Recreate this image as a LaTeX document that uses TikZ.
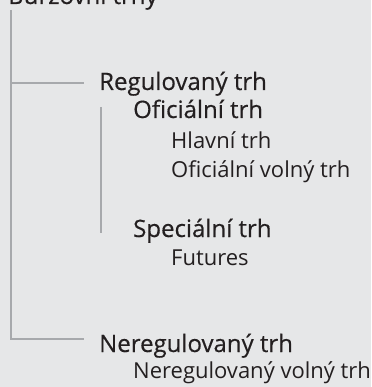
\documentclass[tikz,border=0pt]{standalone}
\usepackage{xcolor}
\usepackage{fontspec}
\setmainfont{Open Sans}
\newfontfamily\headfont[FakeBold=0.4]{Open Sans}

\definecolor{bgGray}{HTML}{E6E7E8}
\definecolor{lineGray}{HTML}{A7A9AC}
\definecolor{textDark}{HTML}{231F20}

\begin{document}
\begin{tikzpicture}[
        x=1pt, y=-1pt,
        every node/.style={inner sep=0pt, anchor=base west, text=textDark},
        head/.style={font=\fontsize{24}{28}\selectfont\headfont},
        item/.style={font=\fontsize{22}{26}\selectfont},
        treeline/.style={lineGray, line width=1.8pt},
    ]
    % Background
    \fill[bgGray] (0,0) rectangle (371,387);
    \useasboundingbox (0,0) rectangle (371,387);

    % Top level
    \node[head] (root) at (8, 4) {Burzovní trhy};

    % Regulated market
    \node[head] (reg) at (99, 90) {Regulovaný trh};
    \node[head] (ofi) at (133, 118) {Oficiální trh};
    \node[item] (hlav) at (171, 149) {Hlavní trh};
    \node[item] (ofivol) at (171, 178) {Oficiální volný trh};
    \node[head] (spec) at (133, 237) {Speciální trh};
    \node[item] (fut) at (171, 265) {Futures};

    % Unregulated market
    \node[head] (nereg) at (99, 352) {Neregulovaný trh};
    \node[item] (neregvol) at (133, 378) {Neregulovaný volný trh};

    % Tree lines
    \coordinate (trunkTop) at (11, 10);
    \coordinate (trunkBot) at (11, 339);
    \coordinate (regEnd) at (84, 83);
    \coordinate (nerEnd) at (84, 339);
    \coordinate (subTop) at (101, 107);
    \coordinate (subBot) at (101, 233);
    \draw[treeline] (trunkTop) -- (trunkBot) -- (nerEnd);
    \draw[treeline] (trunkTop |- regEnd) -- (regEnd);
    \draw[treeline] (subTop) -- (subBot);
\end{tikzpicture}
\end{document}
